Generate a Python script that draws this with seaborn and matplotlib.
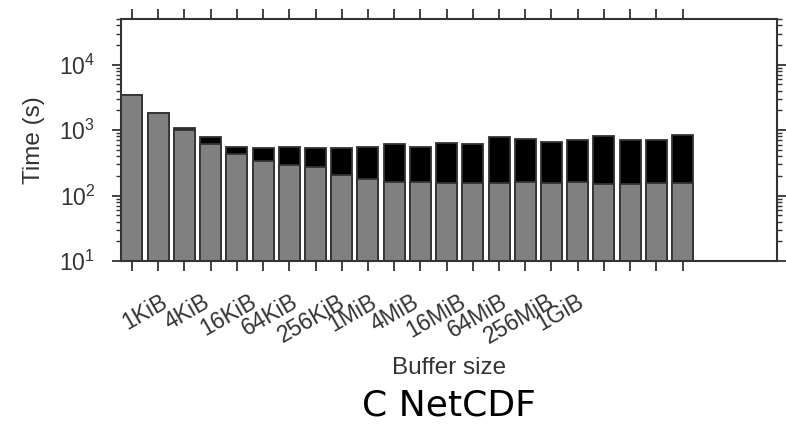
import numpy as np
import pandas as pd
import matplotlib
matplotlib.use("Agg")
import matplotlib.pyplot as plt
import seaborn as sns
from matplotlib.ticker import LogLocator

# Buffer sizes from 512 B up to 1 GiB (powers of two)
buffer_sizes = ["512B", "1KiB", "2KiB", "4KiB", "8KiB", "16KiB", "32KiB", "64KiB",
                "128KiB", "256KiB", "512KiB", "1MiB", "2MiB", "4MiB", "8MiB",
                "16MiB", "32MiB", "64MiB", "128MiB", "256MiB", "512MiB", "1GiB"]

# Lower (grey) part of each bar, in seconds
base_time = [3400, 1800, 1000, 625, 435, 340, 298, 272, 205, 178, 162,
             162, 155, 155, 155, 162, 155, 162, 149, 149, 155, 155]

# Upper (black) part stacked on top, in seconds
extra_time = [0, 0, 62, 150, 120, 185, 257, 253, 320, 377, 443,
              393, 480, 450, 620, 568, 515, 538, 651, 546, 540, 685]

# Labels shown below the axis
tick_labels = ["1KiB", "4KiB", "16KiB", "64KiB", "256KiB", "1MiB",
               "4MiB", "16MiB", "64MiB", "256MiB", "1GiB"]

sns.set_theme(style="ticks")
plt.rcParams["font.family"] = ["Liberation Sans", "DejaVu Sans"]

df = pd.DataFrame({"size": buffer_sizes, "base": base_time, "extra": extra_time})
df["total"] = df["base"] + df["extra"]

fig = plt.figure(figsize=(7.86, 4.28), dpi=100)
ax = fig.add_axes([0.1539, 0.3902, 0.8346, 0.5654])

bar_style = dict(saturation=1, edgecolor="#333333", linewidth=1.3, width=0.8,
                 errorbar=None, ax=ax)
sns.barplot(data=df, x="size", y="total", color="black", **bar_style)
sns.barplot(data=df, x="size", y="base", color="#808080", **bar_style)

ax.set_yscale("log")
ax.set_ylim(10, 5e4)
ax.set_xlim(-0.42, 24.6)
ax.yaxis.set_major_locator(LogLocator(base=10))
ax.yaxis.set_minor_locator(LogLocator(base=10, subs=np.arange(2, 10)))

# one tick per bar, labels every other size on a separate set of positions
ax.set_xticks(np.arange(len(buffer_sizes)))
label_pos = np.linspace(0.5, 16.34, len(tick_labels))
ax.set_xticks(label_pos, labels=tick_labels, minor=True, rotation=30)

ink = "#333333"
for side in ax.spines.values():
    side.set_color(ink)
    side.set_linewidth(1.5)

ax.tick_params(axis="x", which="major", direction="out", length=7.5, width=1.3,
               top=True, bottom=True, labelbottom=False, colors=ink)
ax.tick_params(axis="x", which="minor", length=0, top=False, bottom=True,
               labelbottom=True, pad=21, labelsize=16.5, labelcolor=".2")
ax.tick_params(axis="y", which="major", direction="out", left=True, right=True,
               length=6.5, width=1.3, pad=12, labelsize=16.5, colors=ink,
               labelcolor=".2")
ax.tick_params(axis="y", which="minor", direction="out", left=True, right=True,
               length=3.5, width=1.0, colors=ink)

ax.set_ylabel("Time (s)", fontsize=17.5, color=".2", labelpad=10)
ax.set_xlabel("Buffer size", fontsize=17.5, color=".2", labelpad=6)

fig.text(0.571, 0.03, "C NetCDF", ha="center", va="baseline",
         fontsize=26, color="black", family=["DejaVu Sans"])

fig.savefig("out.png", dpi=100)
